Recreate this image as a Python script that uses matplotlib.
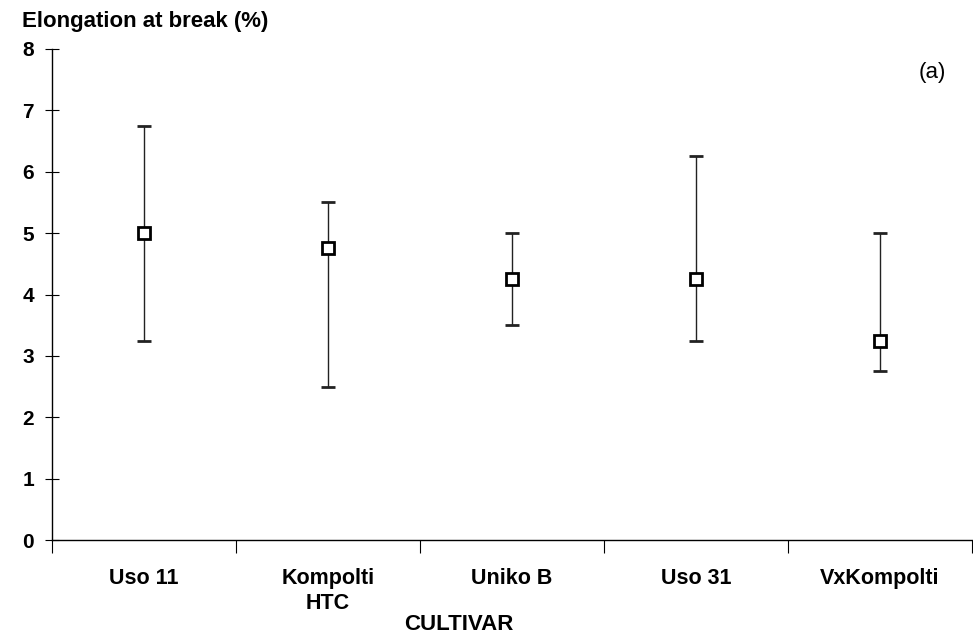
import matplotlib
matplotlib.use("Agg")
import matplotlib.pyplot as plt
import numpy as np

plt.rcParams['font.family'] = ['Liberation Sans', 'DejaVu Sans']

cultivars = ["Uso 11", "Kompolti\nHTC", "Uniko B", "Uso 31", "VxKompolti"]
means = [5.0, 4.75, 4.25, 4.25, 3.25]
upper = [6.75, 5.5, 5.0, 6.25, 5.0]
lower = [3.25, 2.5, 3.5, 3.25, 2.75]

fig = plt.figure(figsize=(9.73, 6.4), dpi=100)
ax = fig.add_axes([52 / 973, 100 / 640, 920 / 973, 491 / 640])

x = np.arange(len(cultivars))
means = np.array(means)
yerr = [means - np.array(lower), np.array(upper) - means]

ax.errorbar(x, means, yerr=yerr, fmt='s', color='black', ecolor='#222222',
            elinewidth=1, capsize=5, capthick=3.5, markersize=9,
            markerfacecolor='white', markeredgecolor='black', markeredgewidth=2,
            zorder=3)

ax.set_xlim(-0.5, len(cultivars) - 0.5)
ax.set_ylim(0, 8)
ax.set_yticks(range(0, 9))
ax.set_xticks(x)
ax.set_xticklabels(cultivars, fontsize=15.5, fontweight='bold', linespacing=1.25)
ax.set_xticks(np.arange(-0.5, len(cultivars)), minor=True)
ax.tick_params(axis='x', which='major', length=0, pad=20)
ax.tick_params(axis='x', which='minor', direction='out', length=9, width=0.8)
ax.tick_params(axis='y', direction='inout', length=10, width=0.8, pad=8,
               labelsize=15)
for lab in ax.get_yticklabels():
    lab.set_fontweight('bold')

for side in ['top', 'right']:
    ax.spines[side].set_visible(False)
for side in ['left', 'bottom']:
    ax.spines[side].set_linewidth(1)

fig.text(22 / 973, 1 - 22 / 640, "Elongation at break (%)", fontsize=16,
         fontweight='bold', va='center', ha='left')
fig.text(459 / 973, 1 - 624 / 640, "CULTIVAR", fontsize=16, fontweight='bold',
         ha='center', va='center')
ax.text(0.957, 0.953, "(a)", transform=ax.transAxes, fontsize=16, ha='center',
        va='center')

fig.savefig("out.png", dpi=100)
